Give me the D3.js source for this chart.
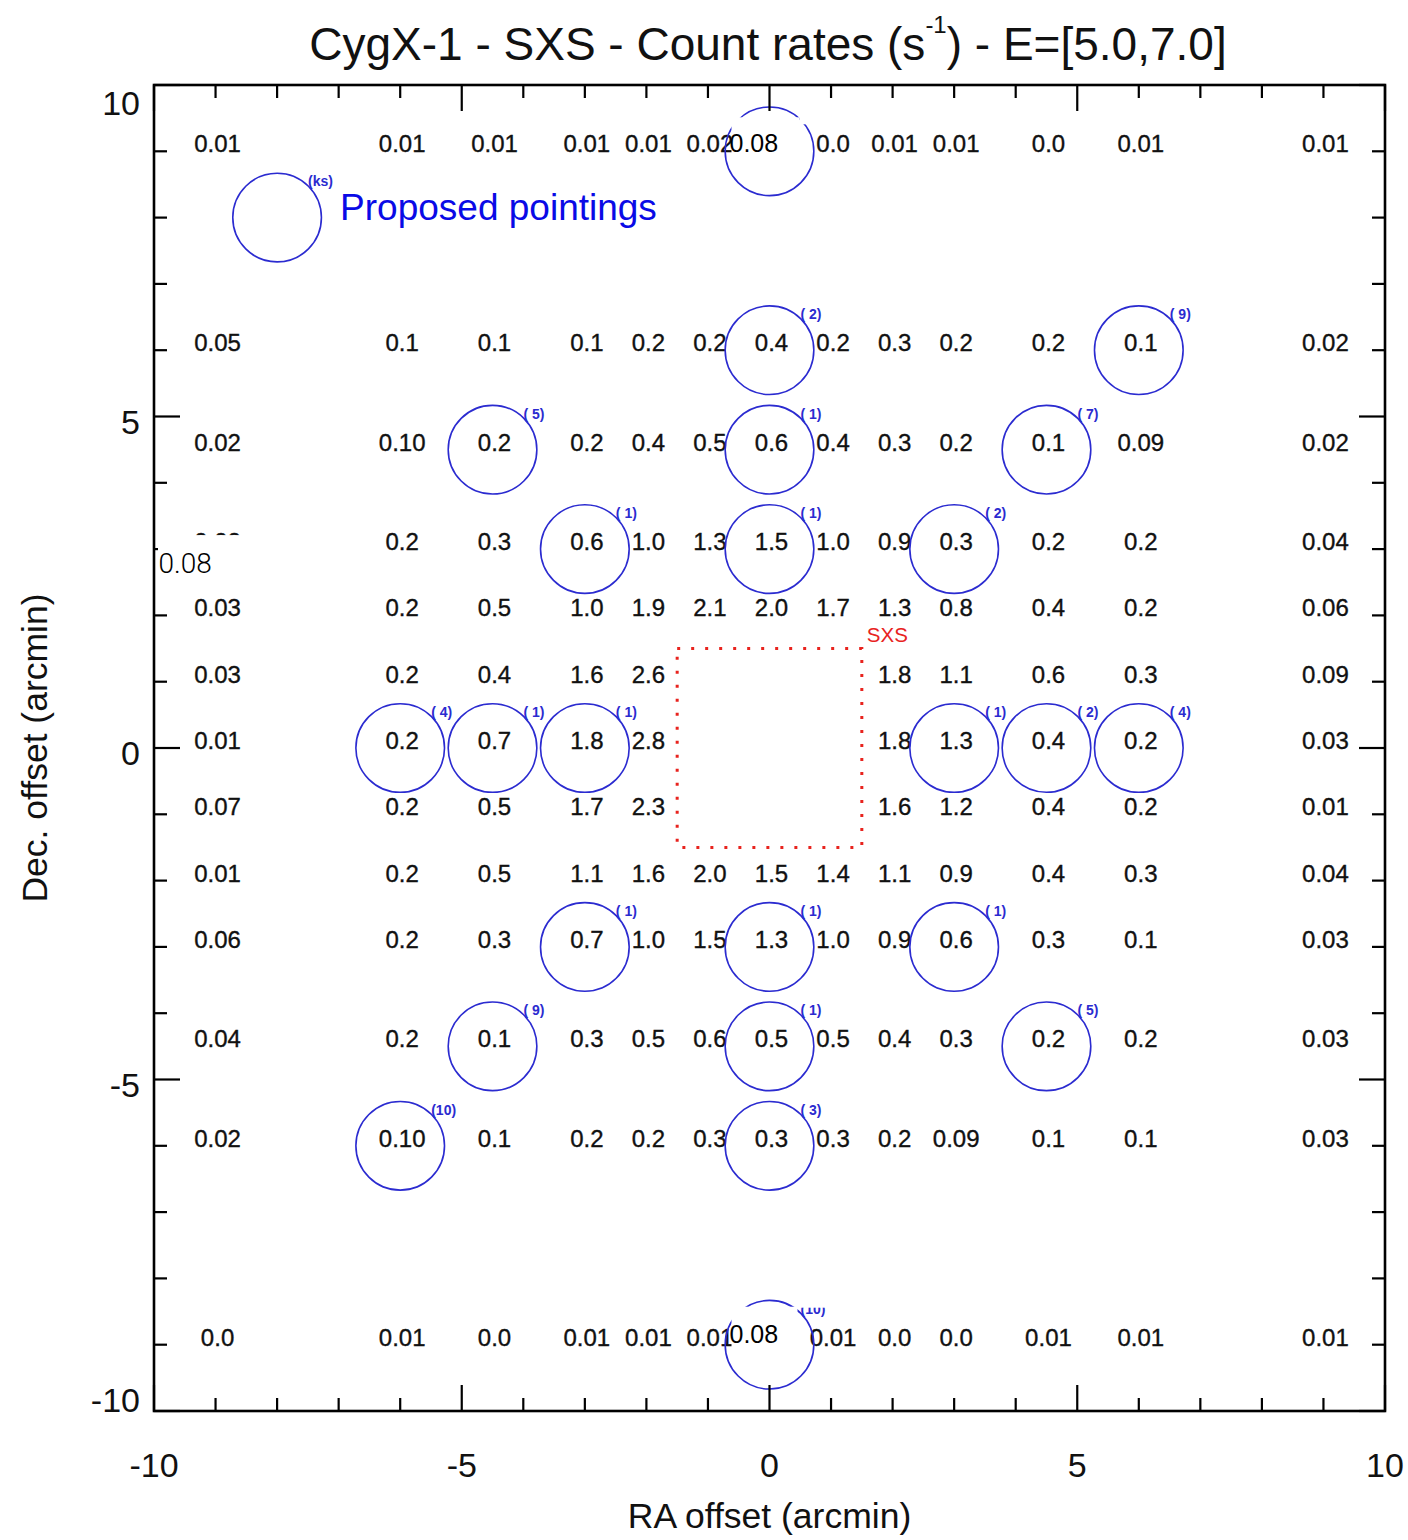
<!DOCTYPE html>
<html><head><meta charset="utf-8">
<script src="https://cdn.jsdelivr.net/npm/d3@7"></script>
<style>
body{margin:0;background:#fff}
text{font-family:"Liberation Sans",Arial,Helvetica,sans-serif}
</style>
</head><body>
<svg id="chart" width="1408" height="1540"></svg>
<script>
// ---------- DATA ----------
const colsX = [-9, -6, -4.5, -3, -2, -1, 0, 1, 2, 3, 4.5, 6, 9];
const rowsY = [9, 6, 4.5, 3, 2, 1, 0, -1, -2, -3, -4.5, -6, -9];
const rateLabels = [
  ["0.01","0.01","0.01","0.01","0.01","0.02",null,"0.0","0.01","0.01","0.0","0.01","0.01"],
  ["0.05","0.1","0.1","0.1","0.2","0.2","0.4","0.2","0.3","0.2","0.2","0.1","0.02"],
  ["0.02","0.10","0.2","0.2","0.4","0.5","0.6","0.4","0.3","0.2","0.1","0.09","0.02"],
  ["0.02","0.2","0.3","0.6","1.0","1.3","1.5","1.0","0.9","0.3","0.2","0.2","0.04"],
  ["0.03","0.2","0.5","1.0","1.9","2.1","2.0","1.7","1.3","0.8","0.4","0.2","0.06"],
  ["0.03","0.2","0.4","1.6","2.6",null,null,null,"1.8","1.1","0.6","0.3","0.09"],
  ["0.01","0.2","0.7","1.8","2.8",null,null,null,"1.8","1.3","0.4","0.2","0.03"],
  ["0.07","0.2","0.5","1.7","2.3",null,null,null,"1.6","1.2","0.4","0.2","0.01"],
  ["0.01","0.2","0.5","1.1","1.6","2.0","1.5","1.4","1.1","0.9","0.4","0.3","0.04"],
  ["0.06","0.2","0.3","0.7","1.0","1.5","1.3","1.0","0.9","0.6","0.3","0.1","0.03"],
  ["0.04","0.2","0.1","0.3","0.5","0.6","0.5","0.5","0.4","0.3","0.2","0.2","0.03"],
  ["0.02","0.10","0.1","0.2","0.2","0.3","0.3","0.3","0.2","0.09","0.1","0.1","0.03"],
  ["0.0","0.01","0.0","0.01","0.01","0.01",null,"0.01","0.0","0.0","0.01","0.01","0.01"]
];
const pointX = [0, 0, 6, -4.5, 0, 4.5, -3, 0, 3, -6, -4.5, -3, 3, 4.5, 6, -3, 0, 3, -4.5, 0, 4.5, -6, 0, 0];
const pointY = [9, 6, 6, 4.5, 4.5, 4.5, 3, 3, 3, 0, 0, 0, 0, 0, 0, -3, -3, -3, -4.5, -4.5, -4.5, -6, -6, -9];
const pointKs = [10, 2, 9, 5, 1, 7, 1, 1, 2, 4, 1, 1, 1, 2, 4, 1, 1, 1, 9, 1, 5, 10, 3, 10];
const legendX = -8, legendY = 8;
const legendUnit = "(ks)";
const legendText = "Proposed pointings";
const pointRadius = 0.72;           // arcmin
const sxsHalf = 1.5;                // arcmin
const majorTicks = [-10, -5, 0, 5, 10];
const minorTicks = [-9,-8,-7,-6,-4,-3,-2,-1,1,2,3,4,6,7,8,9];
const overlayX = [0, 0, -9];
const overlayY = [9, -9, 3];
const overlayText = ["0.08", "0.08", "0.08"];
const titleMain = "CygX-1 - SXS - Count rates (s";
const titleSup = "-1";
const titleEnd = ") - E=[5.0,7.0]";
const xLabel = "RA offset (arcmin)";
const yLabel = "Dec. offset (arcmin)";

// ---------- DRAW ----------
const svg = d3.select("#chart");
const L = 154, R = 1385, T = 85, B = 1411;
const x = d3.scaleLinear().domain([-10, 10]).range([L, R]);
const y = d3.scaleLinear().domain([-10, 10]).range([B, T]);
const blue = "#2b2bd0";

// grid of count rates
const cells = [];
rowsY.forEach((ry, i) => colsX.forEach((cx, j) => {
  if (rateLabels[i][j] !== null) cells.push({x: cx, y: ry, t: rateLabels[i][j]});
}));
svg.append("g").selectAll("text").data(cells).join("text")
  .attr("x", d => x(d.x) + 2).attr("y", d => y(d.y) + 1)
  .attr("text-anchor", "middle").attr("font-size", 24)
  .attr("fill", "#111").attr("stroke", "#111").attr("stroke-width", 0.35)
  .text(d => d.t);

// pointings
const rPx = x(pointRadius) - x(0);
const pts = pointX.map((px, i) => ({x: px, y: pointY[i], ks: pointKs[i]}));
const gp = svg.append("g");
gp.selectAll("circle").data(pts).join("circle")
  .attr("cx", d => x(d.x)).attr("cy", d => y(d.y)).attr("r", rPx)
  .attr("fill", "none").attr("stroke", blue).attr("stroke-width", 1.6);
gp.selectAll("text").data(pts).join("text")
  .attr("x", d => x(d.x) + 31).attr("y", d => y(d.y) - 31)
  .attr("font-size", 14).attr("font-weight", "bold").attr("fill", blue)
  .style("white-space", "pre")
  .text(d => d.ks < 10 ? "( " + d.ks + ")" : "(" + d.ks + ")");

// legend
svg.append("circle").attr("cx", x(legendX)).attr("cy", y(legendY)).attr("r", rPx)
  .attr("fill", "none").attr("stroke", blue).attr("stroke-width", 1.6);
svg.append("text").attr("x", x(legendX) + 31).attr("y", y(legendY) - 32)
  .attr("font-size", 14).attr("font-weight", "bold").attr("fill", blue).text(legendUnit);
svg.append("text").attr("x", x(legendX) + 63).attr("y", y(legendY) + 2)
  .attr("font-size", 37).attr("fill", "#0a0ae6").text(legendText);

// SXS field of view
svg.append("rect")
  .attr("x", x(-sxsHalf)).attr("y", y(sxsHalf))
  .attr("width", x(sxsHalf) - x(-sxsHalf)).attr("height", y(-sxsHalf) - y(sxsHalf))
  .attr("fill", "none").attr("stroke", "#e8231e").attr("stroke-width", 3)
  .attr("stroke-dasharray", "3,11");
svg.append("text").attr("x", x(sxsHalf) + 5).attr("y", y(sxsHalf) - 7)
  .attr("font-size", 20.5).attr("fill", "#e8231e").text("SXS");

// frame and ticks
const ax = svg.append("g").attr("stroke", "#000").attr("stroke-width", 2.2);
ax.append("rect").attr("x", L).attr("y", T).attr("width", R - L).attr("height", B - T)
  .attr("fill", "none").attr("stroke-width", 2.6);
function ticks(vals, len) {
  vals.forEach(v => {
    ax.append("line").attr("x1", x(v)).attr("x2", x(v)).attr("y1", B).attr("y2", B - len);
    ax.append("line").attr("x1", x(v)).attr("x2", x(v)).attr("y1", T).attr("y2", T + len);
    ax.append("line").attr("y1", y(v)).attr("y2", y(v)).attr("x1", L).attr("x2", L + len);
    ax.append("line").attr("y1", y(v)).attr("y2", y(v)).attr("x1", R).attr("x2", R - len);
  });
}
ticks(majorTicks, 26);
ticks(minorTicks, 13);

// tick labels
svg.append("g").selectAll("text").data(majorTicks).join("text")
  .attr("x", d => x(d)).attr("y", 1477).attr("text-anchor", "middle")
  .attr("font-size", 34).attr("fill", "#111").text(d => d);
svg.append("g").selectAll("text").data(majorTicks).join("text")
  .attr("x", 140).attr("y", d => y(d) + (d === 10 ? 30 : d === -10 ? 1 : 17))
  .attr("text-anchor", "end").attr("font-size", 34).attr("fill", "#111").text(d => d);

// axis titles
svg.append("text").attr("x", (L + R) / 2).attr("y", 1528).attr("text-anchor", "middle")
  .attr("font-size", 35.5).attr("fill", "#111").text(xLabel);
svg.append("text").attr("transform", `translate(47,${y(0)}) rotate(-90)`)
  .attr("text-anchor", "middle").attr("font-size", 35.5).attr("fill", "#111").text(yLabel);

// title
const tt = svg.append("text").attr("x", 768).attr("y", 60).attr("text-anchor", "middle")
  .attr("font-size", 46).attr("fill", "#111");
tt.append("tspan").text(titleMain);
tt.append("tspan").attr("font-size", 24).attr("dy", -27).text(titleSup);
tt.append("tspan").attr("dy", 27).text(titleEnd);

// white patches and pasted-over values
const cx0 = x(0);
svg.append("rect").attr("x", cx0 - 38).attr("y", y(9) - 34).attr("width", 68).attr("height", 44).attr("fill", "#fff");
svg.append("rect").attr("x", cx0 + 30).attr("y", y(9) - 45).attr("width", 52).attr("height", 18).attr("fill", "#fff");
svg.append("rect").attr("x", cx0 - 38).attr("y", y(-9) - 38).attr("width", 66).attr("height", 44).attr("fill", "#fff");
svg.append("rect").attr("x", cx0 + 30).attr("y", y(-9) - 55).attr("width", 52).attr("height", 18).attr("fill", "#fff");
svg.append("rect").attr("x", L + 4).attr("y", y(3) - 14).attr("width", 85).attr("height", 46).attr("fill", "#fff");

const ovDx = [-40, -40, -57], ovDy = [1, -2, 24], ovFs = [25, 25, 28], ovFam = ["Liberation Sans", "Liberation Sans", "Roboto"], ovW = [400, 400, 300];
svg.append("g").selectAll("text").data(overlayText).join("text")
  .attr("x", (d, i) => x(overlayX[i]) + ovDx[i]).attr("y", (d, i) => y(overlayY[i]) + ovDy[i])
  .attr("font-size", (d, i) => ovFs[i]).style("font-family", (d, i) => ovFam[i])
  .attr("font-weight", (d, i) => ovW[i]).attr("fill", "#000").text(d => d);
</script>
</body></html>
